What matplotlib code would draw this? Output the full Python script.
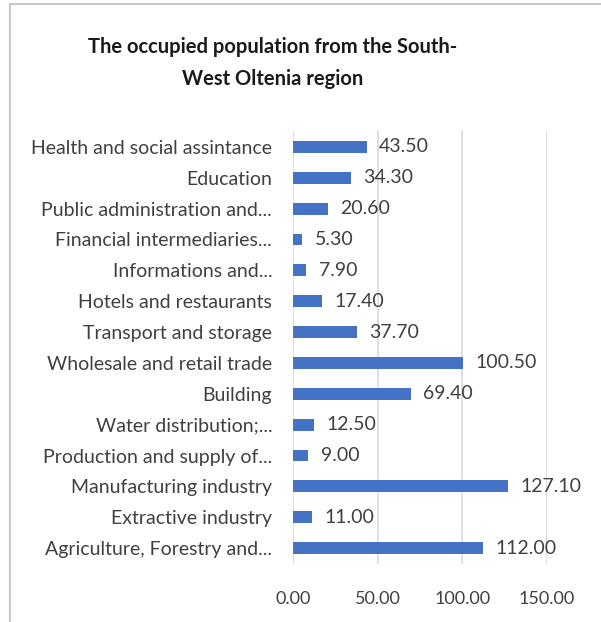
import matplotlib.pyplot as plt
from matplotlib.lines import Line2D

# categories listed bottom to top, as they appear on the chart
categories = [
    "Agriculture, Forestry and...",
    "Extractive industry",
    "Manufacturing industry",
    "Production and supply of...",
    "Water distribution;...",
    "Building",
    "Wholesale and retail trade",
    "Transport and storage",
    "Hotels and restaurants",
    "Informations and...",
    "Financial intermediaries...",
    "Public administration and...",
    "Education",
    "Health and social assintance",
]
values = [112.00, 11.00, 127.10, 9.00, 12.50, 69.40, 100.50, 37.70, 17.40, 7.90, 5.30, 20.60, 34.30, 43.50]
x_ticks = [0, 50, 100, 150]

plt.rcParams['font.family'] = ['Lato', 'DejaVu Sans']

W, H = 601, 622
fig = plt.figure(figsize=(W / 100, H / 100), dpi=100)

# axes placed in pixel terms
left, right = 293, 547
top, bottom = 131.5, 563.5
ax = fig.add_axes([left / W, 1 - bottom / H, (right - left) / W, (bottom - top) / H])

ypos = list(range(len(categories)))
ax.barh(ypos, values, height=0.38, color='#4472C4', zorder=3)

for y, v in zip(ypos, values):
    ax.annotate(f"{v:.2f}", xy=(v, y), xytext=(9, 0), textcoords='offset points',
                va='center', ha='left', fontsize=14, color='#404040')

ax.set_xlim(0, 150)
ax.set_ylim(-0.5, len(categories) - 0.5)
ax.set_xticks(x_ticks)
ax.set_xticklabels([f"{t:.2f}" for t in x_ticks])
ax.set_yticks(ypos)
ax.set_yticklabels(categories)
ax.tick_params(axis='y', length=0, labelsize=14, labelcolor='#404040', pad=15)
ax.tick_params(axis='x', length=0, labelsize=13, labelcolor='#404040', pad=20)

ax.grid(axis='x', color='#D9D9D9', linewidth=1.2, zorder=0)
for s in ax.spines.values():
    s.set_visible(False)

fig.text(273 / W, 1 - 47 / H, "The occupied population from the South-",
         ha='center', va='center', fontsize=14.5, fontweight='bold', color='#1a1a1a')
fig.text(273 / W, 1 - 79 / H, "West Oltenia region",
         ha='center', va='center', fontsize=14.5, fontweight='bold', color='#1a1a1a')

# chart frame (left and top edges)
fig.add_artist(Line2D([10 / W, 10 / W], [0, 1 - 4 / H], transform=fig.transFigure,
                      color='#C8C8C8', linewidth=1.5))
fig.add_artist(Line2D([10 / W, 1], [1 - 4 / H, 1 - 4 / H], transform=fig.transFigure,
                      color='#C8C8C8', linewidth=1.5))

fig.savefig("out.png", dpi=100)
